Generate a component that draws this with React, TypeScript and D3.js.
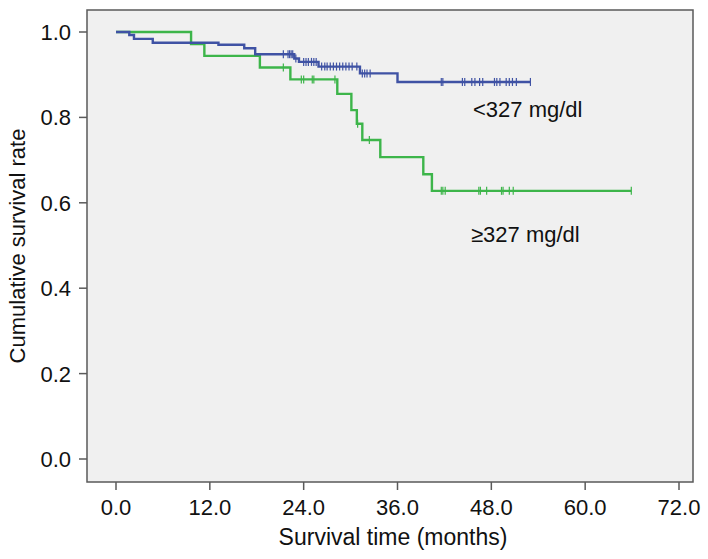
import { useMemo } from "react";
import * as d3 from "d3";

// Kaplan-Meier steps: [month, survival after the drop]
const lowSteps: [number, number][] = [
  [1.7, 0.993], [2.3, 0.984], [4.7, 0.975], [13.1, 0.97], [16.4, 0.962],
  [17.8, 0.948], [22.8, 0.938], [23.4, 0.93], [25.9, 0.919], [31.2, 0.903],
  [36.0, 0.883],
];
const lowCensored = [
  21.4, 22.0, 22.2, 22.4, 22.6, 23.0, 24.0, 24.3, 24.6, 25.0, 25.3, 25.6,
  26.3, 26.7, 27.0, 27.4, 27.8, 28.2, 28.6, 29.0, 29.4, 29.8, 30.2, 30.8,
  31.5, 31.8, 32.1, 32.5, 41.6, 41.8, 44.3, 44.6, 45.5, 45.9, 46.5, 46.9,
  48.4, 48.7, 49.1, 49.9, 50.3, 50.7, 51.2, 53.0,
];

const highSteps: [number, number][] = [
  [9.6, 0.972], [11.3, 0.944], [18.4, 0.917], [22.3, 0.889], [28.3, 0.855],
  [30.1, 0.817], [30.8, 0.785], [31.5, 0.747], [33.8, 0.707], [39.3, 0.667],
  [40.4, 0.628],
];
const highCensored = [
  21.4, 23.7, 24.0, 25.1, 25.3, 28.0, 30.9, 32.4, 41.6, 41.8, 42.1, 46.4,
  46.6, 47.4, 49.3, 49.5, 50.3, 50.8, 65.9,
];

const xTicks = [0, 12, 24, 36, 48, 60, 72];
const yTicks = [0, 0.2, 0.4, 0.6, 0.8, 1.0];

const GREEN = "#3db54a";
const BLUE = "#3f52a4";
const FONT = "'Liberation Sans', Arial, sans-serif";

const W = 708;
const H = 559;
const panel = { left: 87, top: 10, right: 693, bottom: 482 };

const survivalAt = (steps: [number, number][], t: number) => {
  let s = 1;
  for (const [time, val] of steps) if (time <= t) s = val;
  return s;
};

export default function App() {
  const x = d3.scaleLinear().domain([0, 72]).range([116, 679]);
  const y = d3.scaleLinear().domain([0, 1]).range([459, 32]);

  const series = useMemo(() => {
    const line = d3.line<[number, number]>()
      .x(d => x(d[0]))
      .y(d => y(d[1]))
      .curve(d3.curveStepAfter);
    const build = (steps: [number, number][], cens: number[], color: string) => {
      const end = d3.max(cens)!;
      const pts: [number, number][] = [[0, 1], ...steps, [end, steps[steps.length - 1][1]]];
      return {
        path: line(pts)!,
        marks: cens.map(t => ({ t, s: survivalAt(steps, t) })),
        color,
      };
    };
    // green drawn first so blue sits on top where they overlap
    return [
      build(highSteps, highCensored, GREEN),
      build(lowSteps, lowCensored, BLUE),
    ];
  }, []);

  return (
    <>
      <style>{"body{margin:0}"}</style>
      <svg width={W} height={H} style={{ display: "block", background: "#fff" }} fontFamily={FONT}>
        <rect
          x={panel.left}
          y={panel.top}
          width={panel.right - panel.left}
          height={panel.bottom - panel.top}
          fill="#f0f0f0"
          stroke="#5a5a5a"
          strokeWidth={1.5}
        />

        {/* curves */}
        {series.map((s, i) => (
          <g key={i}>
            <path d={s.path} fill="none" stroke={s.color} strokeWidth={2.4} />
            {s.marks.map((m, j) => (
              <line
                key={j}
                x1={x(m.t)}
                x2={x(m.t)}
                y1={y(m.s) - 4}
                y2={y(m.s) + 4}
                stroke={s.color}
                strokeWidth={1.2}
              />
            ))}
          </g>
        ))}

        {/* y axis */}
        {yTicks.map(t => (
          <g key={t}>
            <line x1={panel.left - 8} x2={panel.left} y1={y(t)} y2={y(t)} stroke="#5a5a5a" strokeWidth={1.5} />
            <text x={71} y={y(t)} dy="0.36em" textAnchor="end" fontSize={22} fill="#111">
              {t.toFixed(1)}
            </text>
          </g>
        ))}

        {/* x axis */}
        {xTicks.map(t => (
          <g key={t}>
            <line x1={x(t)} x2={x(t)} y1={panel.bottom} y2={panel.bottom + 8} stroke="#5a5a5a" strokeWidth={1.5} />
            <text x={x(t)} y={515} textAnchor="middle" fontSize={22} fill="#111">
              {t.toFixed(1)}
            </text>
          </g>
        ))}

        <text x={(panel.left + panel.right) / 2 + 3} y={545} textAnchor="middle" fontSize={23} fill="#111">
          Survival time (months)
        </text>
        <text
          transform={`translate(25, ${(panel.top + panel.bottom) / 2}) rotate(-90)`}
          textAnchor="middle"
          fontSize={22}
          fill="#111"
        >
          Cumulative survival rate
        </text>

        {/* group labels */}
        <text x={473} y={117} fontSize={22} fill="#111">&lt;327 mg/dl</text>
        <text x={471} y={242} fontSize={22} fill="#111">≥327 mg/dl</text>
      </svg>
    </>
  );
}
